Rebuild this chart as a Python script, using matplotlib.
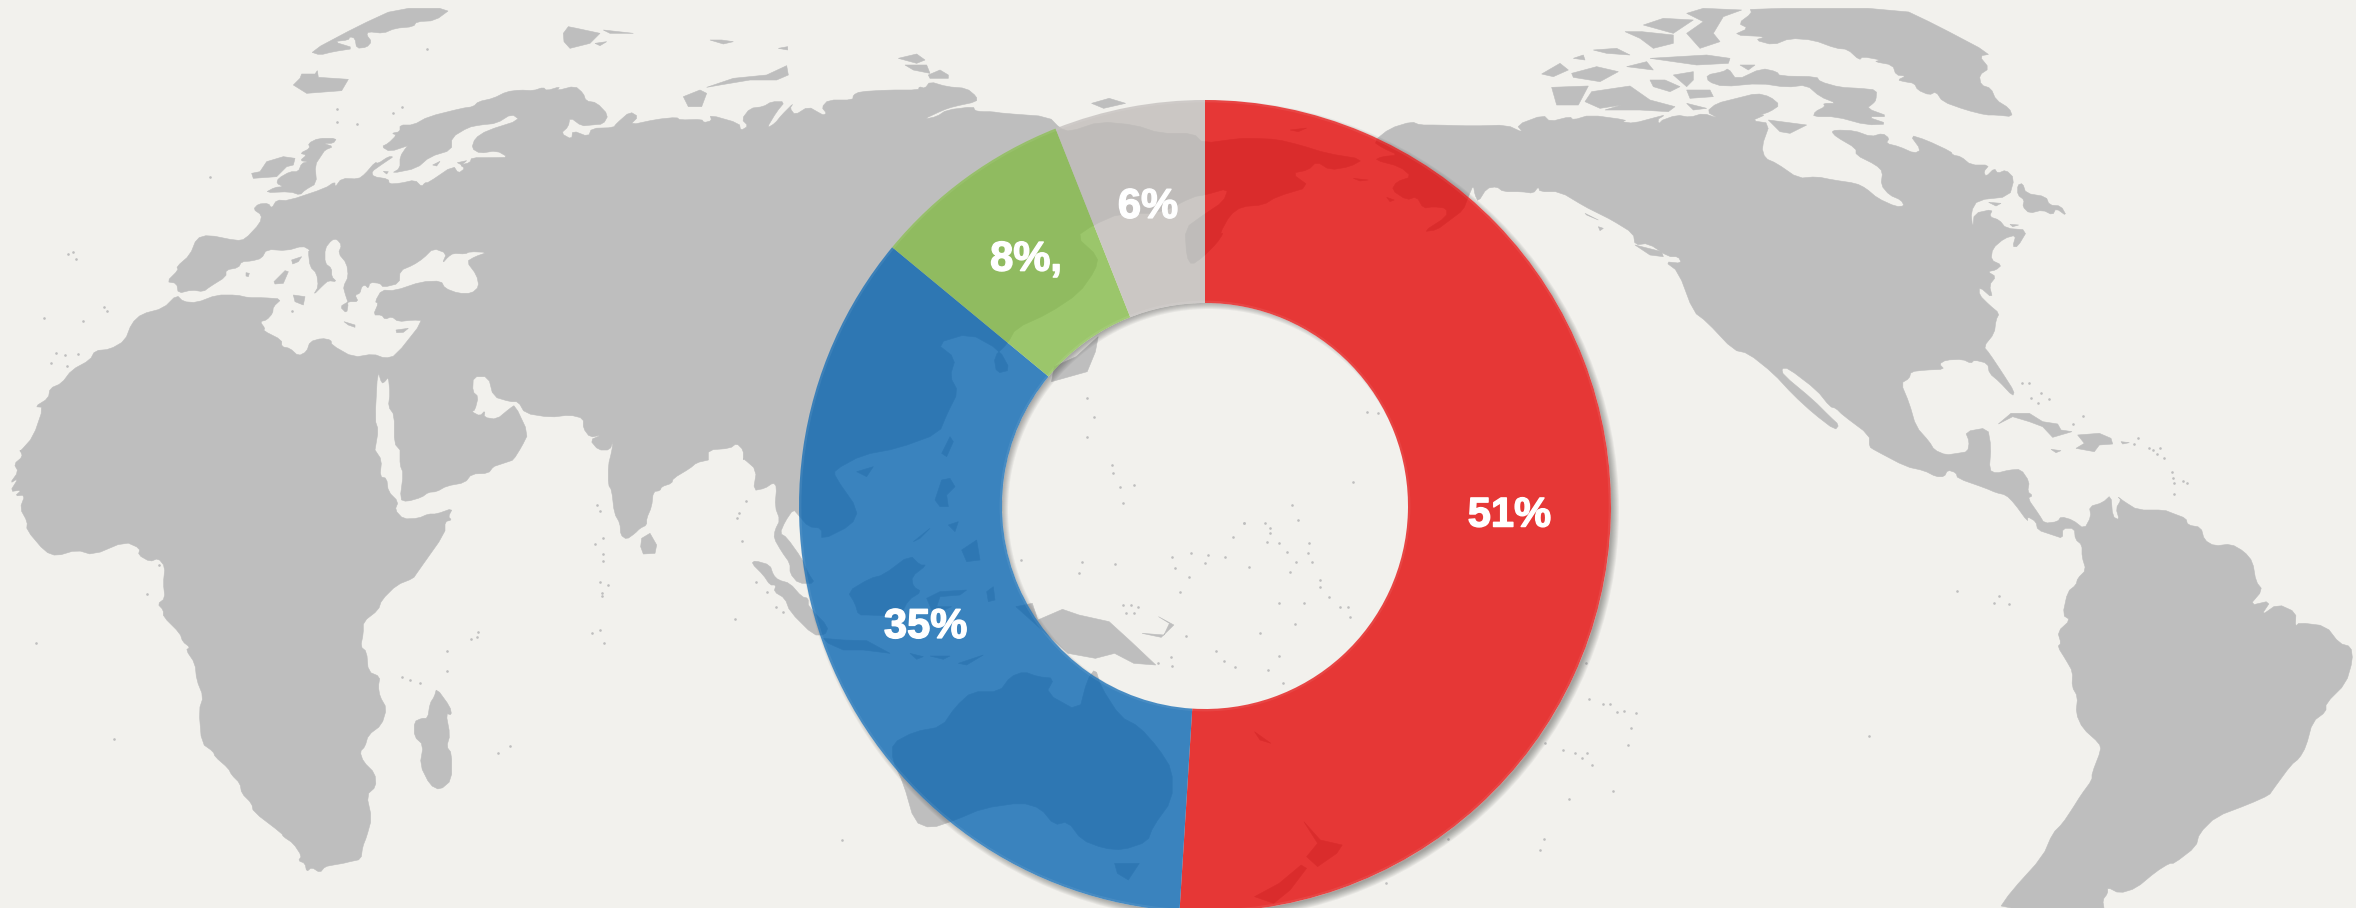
import numpy as np
import matplotlib
matplotlib.use("Agg")
import matplotlib.pyplot as plt
import matplotlib.patheffects as pe
from matplotlib.patches import Polygon, Circle, PathPatch
from matplotlib.path import Path

# ---------- chart data ----------
shares = [51, 35, 8, 6]
share_labels = ["51%", "35%", "8%,", "6%"]
share_colors = ["#E30303", "#0664B1", "#83BB46", "#C0BCB9"]
WEDGE_ALPHA = 0.78

W, H = 2356, 908
BG = "#F2F1ED"
LAND = "#BEBEBE"
CX, CY, R, r = 1205, 506, 406, 203


def Z(ox, oy, pts, sx=3.0, sy=3.0):
    a = np.array(pts, float)
    return np.column_stack([ox + a[:, 0] / sx, oy + a[:, 1] / sy])


def Z1(pts):
    return Z(780, 80, pts, 1.823, 3.0)


def Z2(pts):
    return Z(780, 500, pts, 1.823, 3.0)


def Z3(pts):
    return Z(0, 0, pts)


def Z4(pts):
    return Z(0, 450, pts)


def Z5(pts):
    return Z(500, 0, pts)


def Z6(pts):
    return Z(500, 450, pts)


def Z7(pts):
    return Z(1340, 0, pts)


def Z8(pts):
    return Z(1836, 0, pts)


def Z9(pts):
    return Z(1836, 450, pts)


def Z10(pts):
    return Z(1060, 100, pts)


# ---------- background map outlines ----------
afro_eurasia = np.vstack([
    Z3([(60,1355),(100,1310),(130,1222),(105,1220),(145,1195),(150,1165),(185,1150),(215,1110),(270,1080),(285,1052),(330,1048),(375,1022),(395,970),(425,942),(490,925),(530,885),
        (550,905),(590,908),(650,885),(710,885),(745,893),(790,893),(845,897),(820,920),(818,940),(800,960),(780,965),(795,985),(790,992),(845,1020),(845,1040),(870,1045),(895,1068),(920,1055),(930,1025),(965,1015),(993,1020),(995,1035),(1060,1072),(1120,1062),(1155,1075),(1187,1067),(1270,962),
        (1240,960),(1195,965),(1175,950),(1155,958),(1145,945),(1120,945),(1135,910),(1125,905),(1145,870),(1185,872),(1265,845),(1323,843),(1335,865),(1375,880),(1415,880),(1437,860),(1430,825),(1400,785),(1425,770),(1462,757),(1410,755),(1395,762),(1360,760),(1345,770),(1327,790),(1340,760),(1300,745),(1270,775),(1240,795),(1200,812),(1198,850),(1150,862),
        (1140,850),(1110,847),(1105,865),(1095,855),(1085,860),(1080,880),(1065,885),(1075,905),(1045,905),(1020,920),(1040,940),(1045,910),(1035,880),(1030,860),(1045,830),(1040,790),(1015,760),(1025,735),(1010,717),(995,720),(975,745),(975,790),(995,805),(995,830),(1010,845),(985,842),(970,855),(940,885),(955,860),(950,820),(930,800),(925,755),(930,750),(908,738),(860,752),(800,748),(785,775),(755,783),(725,785),(715,803),(678,810),(678,830),(630,860),(610,875),(575,870),(535,880),(530,850),(500,845),(535,810),(530,800),(570,765),(590,715),(625,705),(710,722),(735,718),(780,670),(785,645),(760,628),(775,612),(805,610),(815,625),(830,600),(865,602),(975,565),(1005,545),(1005,562),(1025,535),(1075,537),(1095,522),(1125,487),(1135,490),(1165,470),(1180,470),(1165,480),(1140,497),(1115,515),(1120,530),(1165,537),(1168,552),(1200,550),(1245,540),(1265,560),(1275,548),(1285,548),(1360,497),(1375,520),(1395,505),(1380,495),(1410,488),(1415,473),(1480,473),(1525,472),(1490,452),(1440,460),(1415,445),(1425,415),(1460,392),(1560,360),(1535,342),(1490,370),(1440,375),(1405,382),(1355,412),(1355,450),(1290,470),(1250,505),(1175,520),(1200,505),(1200,470),(1220,440),(1230,435),(1170,455),(1145,440),(1165,430),(1190,405),(1175,400),(1200,395),(1200,375),(1240,375),(1285,350),(1385,325),(1420,320),(1435,305),(1480,295),(1520,275),(1560,270)]),
    Z5([(100,272),(130,262),(140,272),(180,260),(170,272),(225,258),(250,280),(258,303),(290,308),(325,345),(310,372),(275,375),(245,378),(210,352),(205,380),(183,400),(215,418),(218,392),(265,410),(275,385),(340,383),(350,370),(390,335),(415,350),(390,375),(470,358),(530,352),(540,360),(605,358),(612,368),(635,362),(630,345),(718,370),(722,392),(745,378),(725,358),(750,325),(790,320),(815,305),(855,305),(830,335),(800,385),(825,370),(845,345),(880,310),(870,325),(885,345),(925,320),(960,340),(970,345),(980,340),(965,322),(985,300),(1058,300),(1060,285),(1080,275),(1165,270),(1255,270),(1258,260),(1275,265),(1290,245),(1340,260),(1400,265),(1430,290),(1430,305),(1360,320),(1330,330),(1270,358),(1310,350),(1340,330),(1420,320),(1425,332),(1445,335),(1475,335),(1510,340)]),
    Z1([(490,110)]),
    Z10([(0,85),(30,95),(120,65),(225,75),(300,100),(400,100),(430,130),(540,115),(580,115),(650,118),(720,135),(800,160),(910,178),(870,200),(810,210),(770,185),(745,210),(695,220),(750,260),(650,290),(610,315),(545,320),(510,345),(480,400),(490,400),(470,430),(430,470),(395,495),(380,470),(375,385),(430,345),(490,305),(505,265),(435,285),(400,290),(300,340),(180,340),(100,375)]),
    Z1([(540,470),(580,530),(575,570),(545,640),(490,700),(430,745),(415,790),(390,830),(395,880),(420,870),(400,810),(345,760),(285,790),(320,835),(310,890),(325,935),(305,1000),(290,1060),(215,1105),(150,1125),(100,1170)]),
    Z6([(1005,80),(1075,180),(1055,225),(965,270),(965,235),(925,230),(895,195),(880,178),(855,215),(840,250),(860,262),(905,325),(925,370),(945,400),(895,400),(870,370),(870,340),(845,305),(822,265),(825,240),(840,210),(825,170),(830,110),(820,98),(795,115),(760,122),(770,60),(730,25)]),
    Z5([(730,1380),(730,1350),(710,1330),(690,1345),(625,1350),(625,1380)]),
    Z6([(625,30),(590,38),(570,55),(520,85),(515,100),(485,110),(480,122),(460,125),(455,170),(440,205),(440,225),(420,235),(405,250),(380,268),(362,255),(360,220),(343,190),(335,120),(325,105),(325,45),(335,5)]),
    Z5([(340,1320),(330,1350),(295,1350),(270,1320),(305,1305),(270,1312),(250,1285),(250,1255),(210,1245),(150,1252),(75,1240),(55,1205)]),
    Z3([(1530,1205),(1480,1190),(1465,1130),(1420,1130),(1418,1175),(1435,1190),(1425,1230),(1415,1235),(1440,1248),(1455,1232),(1452,1252),(1490,1258),(1530,1225),(1545,1215),(1585,1300),(1565,1340),(1540,1380)]),
    Z4([(1525,35),(1495,45),(1480,50),(1465,70),(1415,72),(1395,98),(1340,108),(1310,125),(1285,127),(1265,142),(1220,155),(1200,148),(1210,70),(1200,45),(1200,0)]),
    Z3([(1200,1350),(1183,1330),(1183,1245),(1165,1220),(1170,1180),(1165,1130),(1155,1145),(1145,1150),(1133,1110),(1125,1260),(1135,1290),(1125,1350)]),
    Z4([(1125,0),(1145,30),(1140,80),(1160,85),(1165,125),(1195,155),(1185,180),(1210,207),(1255,205),(1285,192),(1310,192),(1358,175),(1345,200),(1355,210),(1335,215),(1335,250),(1250,370),(1240,385),(1190,405),(1145,450),(1135,480),(1090,515),(1090,550),(1082,590),(1100,605),(1105,665),(1140,680),(1135,710),(1140,740),(1160,775),(1145,825),(1105,855),(1095,890),(1080,905),(1090,935),(1125,970),(1128,1010),(1100,1035),(1115,1105),(1100,1160),(1088,1190),(1083,1228),(1050,1235),(1030,1240),(1000,1245),(975,1250),(960,1268),(935,1252),(920,1265),(915,1240),(895,1232),(905,1218),(880,1180),(850,1160),(845,1150),(760,1085),(755,1060),(725,1030),(720,1000),(695,975),(685,955),(645,920),(640,905),(605,880),(597,780),(610,740),(590,690),(585,640),(558,600),(570,592),(548,575),(540,550),(490,500),(490,480),(473,462),(495,445),(490,400),(495,350),(475,325),(450,335),(415,315),(420,295),(375,275),(280,315),(230,300),(170,318),(135,305),(80,240),(82,215),(60,175),(75,135),(45,138),(65,120),(30,125),(55,85),(30,100),(55,65),(42,42),(68,20),(60,0)]),
])

americas = np.vstack([
    Z7([(100,425),(150,385),(215,365),(240,375),(290,375),(400,378),(500,375),(550,398),(530,375),(610,345),(630,365),(690,350),(700,360),(750,345),(860,360),(845,365),(880,370),(955,350),(975,345),(950,360),(970,385),(955,365),(1010,345),(1050,352),(1090,340),(1135,355),(1100,335),(1130,310),(1190,295),(1250,280),(1290,290),(1320,315),(1290,335),(1260,345),(1275,345),(1235,362),(1290,370),(1265,440),(1275,475),(1310,490),(1375,535),(1430,530),(1480,540)]),
    Z8([(60,550),(90,565),(125,595),(180,620),(205,618),(195,600),(160,585),(135,555),(140,515),(120,495),(60,465),(60,445),(0,410),(-13,395),(0,390),(55,392),(105,410),(140,400),(160,415),(150,430),(190,440),(235,460),(255,450),(222,405),(270,420),(345,455),(350,465),(375,470),(405,495),(460,495),(443,515),(450,530),(475,505),(485,520),(510,510),(535,535),(520,590),(425,600),(405,635),(410,685),(415,640),(470,628),(460,650),(490,660),(510,685),(575,690),(545,740),(530,740),(540,705),(505,715),(470,745),(465,780),(497,795),(480,810),(455,815),(480,830),(460,855),(470,895),(430,860),(430,885),(460,915),(490,940),(480,960),(475,1000),(443,1040),(460,1060),(500,1120),(535,1175),(530,1188),(490,1145),(460,1120),(455,1090),(415,1080),(405,1090),(380,1078),(330,1080),(310,1092),(325,1108),(270,1110),(225,1115),(220,1135),(195,1150),(220,1210),(240,1280),(280,1325),(295,1350),(330,1365),(365,1360),(395,1355),(400,1325),(388,1295),(455,1283),(465,1340)]),
    Z9([(460,60),(480,70),(520,60),(555,58),(580,95),(575,125),(590,137),(575,145),(610,195),(625,220),(665,215),(675,200),(710,210),(745,237),(765,200),(760,170),(800,158),(825,135),(830,200),(850,210),(840,175),(855,150),(845,140),(865,155),(905,180),(985,180),(1010,190),(1050,205),(1055,225),(1095,232),(1105,270),(1135,288),(1185,282),(1225,305),(1250,335),(1260,395),(1280,420),(1240,467),(1305,452),(1275,497),(1325,462),(1380,487),(1378,530),(1390,518),(1470,528),(1510,580),(1545,590),(1550,630),(1530,700),(1470,760),(1470,785),(1430,815),(1410,890),(1390,925),(1365,945),(1310,1020),(1300,1035),(1240,1062),(1140,1100),(1090,1150),(1080,1190),(1015,1240),(1000,1240),(960,1265),(900,1315),(850,1330),(815,1312),(815,1330),(800,1350),(805,1380),(487,1380),(525,1325),(620,1220),(650,1150),(680,1120),(710,1075),(735,1035),(768,990),(768,970),(795,900),(790,880),(740,835),(720,790),(725,740),(708,710),(710,665),(690,630),(665,590),(675,580),(665,545),(703,510),(680,495),(695,425),(720,405),(725,385),(750,360),(738,320),(738,285),(718,268),(715,235),(680,235),(680,265),(650,255),(605,240),(600,215),(575,200),(575,215),(535,160),(510,135),(480,128),(450,115),(365,85),(360,68),(335,60),(325,80),(300,80),(265,62),(210,50),(115,0)]),
    Z8([(100,1340),(100,1305),(20,1245),(0,1225)]),
    Z7([(1470,1220),(1430,1170),(1345,1105),(1325,1105),(1330,1125),(1420,1200),(1470,1250),(1497,1275),(1485,1290),(1420,1240),(1360,1185),(1300,1120),(1225,1060),(1180,1050),(1100,965),(1060,935),(1015,815),(975,785),(1025,790),(1015,770),(985,770),(925,730),(885,735),(880,700),(815,660),(775,640),(735,620),(660,575),(600,575),(595,560),(580,580),(545,575),(490,575),(470,560),(440,565),(415,605),(405,585),(400,555),(385,590),(370,630),(330,660),(290,690),(250,695),(320,650),(320,625),(280,620),(250,625),(230,590),(200,600),(155,570),(170,545),(215,530),(180,500),(105,480),(125,470),(175,465),(130,445)]),
])

greenland = np.vstack([
    Z7([(1230,25)]),
    Z8([(195,25),(300,75),(465,162),(430,168),(460,205),(430,225),(435,255),(465,265),(480,300),(520,325),(530,350),(480,345),(450,345),(390,330),(320,305),(300,275),(280,285),(245,270),(235,250),(205,245),(185,240),(210,228),(180,225),(170,195),(115,185),(135,180),(80,170),(70,180),(35,148),(0,145)]),
    Z7([(1420,120),(1350,115),(1300,135),(1245,120),(1280,110),(1180,105),(1225,85),(1195,70),(1235,40)]),
])

baffin = Z7([(1150,215),(1165,205),(1190,240),(1265,205),(1310,215),(1320,228),(1430,230),(1440,245),(1500,262),(1560,265),(1610,270),(1608,300),(1600,310),(1580,325),(1648,350),(1580,350),(1645,372),(1580,375),(1488,350),(1420,350),(1425,335),(1455,320),(1450,310),(1490,310),(1440,290),(1400,255),(1340,262),(1260,250),(1150,260),(1105,245),(1100,225)])

australia = Z2([(205,730),(245,695),(295,680),(320,620),(350,575),(400,575),(420,530),(445,515),(470,530),(500,535),(485,580),(545,635),(560,540),(575,505),(585,560),(620,650),(655,680),(690,745),(715,810),(715,900),(680,980),(670,1025),(625,1050),(590,1045),(550,1020),(525,965),(500,975),(475,925),(440,908),(370,925),(320,960),(275,985),(245,965),(225,850),(205,780)])

islands = [
    Z3([(900,460),(930,445),(925,430),(955,415),(1010,415),(1000,430),(970,430),(1000,440),(975,450),(965,465),(945,495),(950,550),(915,570),(900,585),(870,575),(795,578),(825,562),(850,560),(830,550),(835,535),(870,515),(895,515),(905,490),(925,485),(900,482),(920,465)]),
    Z3([(755,520),(780,515),(800,485),(850,470),(885,475),(880,495),(860,500),(830,530),(760,535)]),
    Z3([(880,255),(900,235),(905,222),(945,222),(952,212),(955,232),(1045,238),(1025,272),(920,280)]),
    Z3([(1190,25),(1355,25),(1305,62),(1250,65),(1240,80),(1185,85),(1150,100),(1105,95),(1100,105),(1115,125),(1100,142),(1070,145),(1065,115),(1050,110),(1045,120),(1000,125),(1065,145),(1000,155),(960,165),(930,155),(1075,78)]),
    Z3([(875,780),(905,770),(895,785),(878,792)]),
    Z3([(738,818),(748,820),(745,830),(738,828)]),
    Z3([(822,845),(855,812),(865,815),(850,850),(825,852)]),
    Z3([(880,885),(915,890),(910,915),(885,905)]),
    Z3([(1032,965),(1065,975),(1065,982),(1045,975)]),
    Z3([(1188,990),(1225,985),(1210,997),(1190,998)]),
    Z3([(1298,495),(1320,484),(1310,498)]),
    Z3([(1372,488),(1400,482),(1385,495)]),
    Z3([(1150,514),(1165,515),(1160,522)]),
    Z4([(1310,715),(1350,770),(1355,795),(1338,790),(1350,855),(1340,890),(1355,910),(1355,990),(1320,1020),(1290,1005),(1260,945),(1270,885),(1243,860),(1243,815),(1265,805),(1283,805),(1290,760),(1303,740)]),
    Z6([(425,265),(450,250),(470,285),(465,310),(430,312),(422,290)]),
    Z6([(755,340),(765,332),(810,345),(820,375),(835,390),(870,400),(905,440),(925,445),(925,470),(985,530),(975,555),(940,555),(870,485),(855,445),(822,425),(828,405),(810,405),(790,375)]),
    Z6([(970,565),(1030,570),(1100,572),(1170,610),(1090,600),(1030,600),(985,580)]),
    Z6([(1230,610),(1270,620),(1250,628)]),
    Z6([(1290,618),(1350,618),(1330,628)]),
    Z6([(1375,640),(1450,615),(1400,645)]),
    Z6([(1043,425),(1110,385),(1150,375),(1230,315),(1260,345),(1280,345),(1235,380),(1240,410),(1265,425),(1225,450),(1200,500),(1110,495),(1075,495),(1065,460)]),
    Z6([(1280,445),(1320,425),(1400,420),(1380,435),(1320,440),(1310,470),(1355,470),(1310,490),(1295,480)]),
    Z6([(1325,90),(1350,85),(1365,110),(1340,135),(1345,170),(1320,170),(1305,150)]),
    Z6([(1345,225),(1375,215),(1365,245)]),
    Z6([(1385,300),(1430,270),(1440,330),(1400,335)]),
    Z6([(1240,275),(1290,235),(1260,265)]),
    Z6([(1070,65),(1120,50),(1100,80)]),
    Z6([(1460,425),(1480,410),(1485,450),(1465,455)]),
    Z5([(1325,1360),(1350,1310),(1360,1325),(1340,1370)]),
    Z2([(430,320),(460,310),(470,360),(515,328),(545,345),(600,365),(640,425),(685,495),(645,490),(610,460),(575,475),(525,460)]),
    Z2([(660,400),(700,405),(710,370),(690,350),(718,375),(695,412)]),
    Z2([(610,1090),(655,1090),(635,1140),(615,1120)]),
    Z2([(955,965),(985,1020),(1025,1035),(1015,1060),(980,1100),(960,1070),(980,1030)]),
    Z2([(950,1095),(960,1105),(930,1170),(900,1210),(865,1190),(910,1150)]),
    Z2([(865,695),(895,730),(875,720)]),
    Z1([(580,770),(575,815),(560,875),(495,905),(500,860),(540,830)]),
    Z1([(568,70),(600,55),(630,70),(590,85)]),
    Z10([(690,90),(740,84),(715,95)]),
    Z10([(880,235),(925,240),(900,243)]),
    Z10([(980,292),(1003,300),(990,305)]),
    Z5([(620,262),(700,235),(800,225),(860,197),(865,225),(830,240),(750,240),(660,255)]),
    Z5([(550,290),(600,270),(620,280),(605,320),(565,320)]),
    Z5([(190,100),(205,80),(230,85),(300,100),(270,130),(210,145),(192,125)]),
    Z5([(310,90),(400,100),(330,100)]),
    Z5([(285,130),(320,125),(300,137)]),
    Z5([(630,120),(665,120),(700,125),(670,132)]),
    Z5([(835,145),(863,140),(863,150)]),
    Z5([(1195,175),(1250,162),(1275,180),(1250,190)]),
    Z5([(1215,195),(1280,195),(1290,220),(1240,210)]),
    Z5([(1285,225),(1320,210),(1345,225),(1345,235),(1290,235)]),
    Z7([(605,222),(660,190),(685,210),(640,230)]),
    Z7([(635,262),(745,258),(715,315),(650,315)]),
    Z7([(735,305),(755,275),(870,258),(930,300),(1005,320),(985,335),(900,330),(795,330),(845,315),(780,325)]),
    Z7([(695,220),(770,200),(835,215),(780,245),(700,232)]),
    Z7([(760,150),(830,145),(870,165),(800,160)]),
    Z7([(700,175),(730,165),(735,180)]),
    Z7([(855,95),(905,95),(1000,105),(1000,130),(940,145),(900,115)]),
    Z7([(910,75),(970,55),(1060,60),(1000,100)]),
    Z7([(1040,40),(1090,25),(1205,30),(1150,50),(1120,100),(1140,125),(1080,145),(1040,100),(1090,65)]),
    Z7([(930,175),(1100,165),(1170,175),(1165,190),(1070,195),(1000,185)]),
    Z7([(860,200),(920,185),(940,210)]),
    Z7([(930,240),(975,240),(1020,260),(990,275),(940,260)]),
    Z7([(1000,225),(1060,215),(1060,240),(1040,260)]),
    Z7([(1040,270),(1110,270),(1120,290),(1050,295)]),
    Z7([(1040,310),(1100,325),(1060,330)]),
    Z7([(1200,195),(1245,195),(1225,210)]),
    Z7([(1285,360),(1400,375),(1350,400),(1320,395)]),
    Z7([(885,735),(965,755),(970,770),(930,765)]),
    Z7([(735,640),(775,660),(740,645)]),
    Z7([(775,680),(790,685),(780,692)]),
    Z8([(545,555),(560,550),(570,580),(630,590),(640,615),(675,618),(692,648),(660,625),(650,645),(620,630),(580,640),(560,620),(565,600),(545,585)]),
    Z8([(487,1272),(525,1240),(580,1240),(620,1265),(665,1272),(675,1290),(708,1295),(650,1312),(620,1280),(580,1265),(530,1250)]),
    Z8([(725,1305),(790,1300),(825,1315),(830,1332),(790,1335),(775,1355),(720,1345),(745,1330)]),
    Z8([(645,1348),(675,1352),(660,1358)]),
    Z8([(855,1325),(880,1328),(860,1332)]),
    Z8([(458,607),(495,610),(480,618)]),
    Z8([(522,673),(548,675),(530,680)]),
]

islets = np.vstack([
    Z3([(205,762),(218,757),(228,777),(312,922),(320,933),(133,955),(250,962),(168,1058),(196,1066),(233,1063),(153,1090),(202,1097),(1010,328),(1010,365),(1072,373),(1178,340),(1205,322),(630,532),(875,934),(1280,146)]),
    Z4([(477,344),(442,432),(107,580),(341,866),(1206,680),(1231,689),(1261,698),(1341,602),(1341,662),(1412,567),(1432,561),(1435,545),(1495,908),(1530,887)]),
    Z6([(291,165),(300,183),(308,263),(284,283),(309,312),(309,332),(300,396),(323,405),(306,428),(307,438),(300,540),(275,548),(312,580),(738,153),(718,190),(710,205),(727,272),(705,508),(1025,1171),(768,397),(800,425),(828,470),(850,485)]),
    Z1([(560,955),(572,1010),(560,1070),(605,1155),(607,1180),(620,1220),(645,1215),(625,1270),(845,1330),(885,1330),(945,1320),(933,1275),(1045,1207),(1070,997),(1090,1000)]),
    Z2([(715,170),(750,158),(780,165),(812,170),(720,205),(775,188),(855,200),(745,230),(730,275),(930,215),(985,240),(985,260),(1000,290),(910,310),(955,310),(1020,320),(1035,322),(1040,350),(938,372),(875,398),(910,468),(890,510),(917,550),(925,155),(963,160),(940,185),(970,185),(893,85),(893,100),(888,125),(910,130),(965,130),(845,70),(825,110),(550,185),(610,193),(545,220),(440,180),(625,315),(640,315),(652,322),(630,340),(645,340),(712,470),(715,497),(690,490),(740,408),(795,452),(810,482),(830,502),(1470,490),(1475,598),(1500,612),(1513,612),(1525,635),(1538,633),(1560,640),(1552,684),(1545,735),(1395,730),(1427,750),(1450,760),(1472,760),(1462,775),(1480,795),(1518,872),(1438,897),(1392,1017),(1385,1050),(1218,1017),(1105,1148)]),
    Z9([(363,423),(490,437),(475,458),(518,461),(98,858),(1007,67),(1012,85),(1014,100),(1040,92),(1054,98),(1015,133)]),
    Z8([(557,1148),(580,1148),(585,1195),(607,1210),(640,1198),(614,1180),(712,1273),(740,1247),(905,1313),(893,1332),(938,1343),(952,1350),(973,1345),(963,1362),(985,1375)]),
])


def soften(p, k=0.22):
    q = np.roll(p, -1, axis=0)
    return np.column_stack([(1 - k) * p + k * q, k * p + (1 - k) * q]).reshape(-1, 2)


def circle_pts(cx, cy, rad, n=720):
    t = np.linspace(0, 2 * np.pi, n, endpoint=False)
    return np.column_stack([cx + rad * np.cos(t), cy + rad * np.sin(t)])


def poly_path(outer, hole):
    v = np.vstack([outer, outer[:1], hole[::-1], hole[-1:]])
    codes = ([Path.MOVETO] + [Path.LINETO] * (len(outer) - 1) + [Path.CLOSEPOLY]
             + [Path.MOVETO] + [Path.LINETO] * (len(hole) - 1) + [Path.CLOSEPOLY])
    return Path(v, codes)


fig = plt.figure(figsize=(W / 100, H / 100), dpi=100, facecolor=BG)

# pixel-coordinate layer for the map and shadows
mp = fig.add_axes([0, 0, 1, 1])
mp.set_xlim(0, W)
mp.set_ylim(H, 0)
mp.axis("off")

top_clip = Polygon([(0, 8), (W, 8), (W, H), (0, H)], transform=mp.transData, visible=False)
mp.add_patch(top_clip)
for outline in [afro_eurasia, americas, greenland, baffin, australia] + islands:
    pts = soften(outline) if len(outline) > 12 else outline
    patch = Polygon(pts, closed=True, facecolor=LAND, edgecolor=LAND, linewidth=0.4)
    mp.add_patch(patch)
    patch.set_clip_path(top_clip)
mp.scatter(islets[:, 0], islets[:, 1], s=3.5, color=LAND, linewidths=0)

# soft drop shadow falling to the lower right, outside the ring and inside the hole
page = np.array([(-50, -50), (W + 50, -50), (W + 50, H + 50), (-50, H + 50)], float)
outside = PathPatch(poly_path(page, circle_pts(CX, CY, R)), transform=mp.transData, visible=False)
hole = Circle((CX, CY), r, transform=mp.transData, visible=False)
mp.add_patch(outside)
mp.add_patch(hole)
for i in range(8):
    s = Circle((CX + 4, CY + 4), R + 4 - i, facecolor="#303030", edgecolor="none", alpha=0.06)
    mp.add_patch(s)
    s.set_clip_path(outside)
    t = PathPatch(poly_path(page, circle_pts(CX + 4, CY + 4, r + 5 - i)),
                  facecolor="#303030", edgecolor="none", alpha=0.06)
    mp.add_patch(t)
    t.set_clip_path(hole)

# the doughnut itself
ax = fig.add_axes([(CX - R) / W, 1 - (CY + R) / H, 2 * R / W, 2 * R / H], facecolor="none")
wedges, texts = ax.pie(
    shares, labels=share_labels, colors=share_colors, startangle=90, counterclock=False,
    radius=1, labeldistance=0.75,
    wedgeprops=dict(width=0.5, linewidth=0, alpha=WEDGE_ALPHA),
    textprops=dict(color="white", fontsize=30, fontweight="bold", family="Liberation Sans"),
)
for t in texts:
    t.set_ha("center")
    t.set_va("center")
    t.set_path_effects([pe.withStroke(linewidth=1.0, foreground="white")])
ax.set_xlim(-1, 1)
ax.set_ylim(-1, 1)
ax.axis("off")
for rad, off in [(1.0, -1.0 / R), (0.5, 1.0 / R)]:
    ax.add_patch(Circle((0, 0), rad + off, fill=False, edgecolor="white", linewidth=2, alpha=0.07))

fig.savefig("out.png", dpi=100, facecolor=BG)
